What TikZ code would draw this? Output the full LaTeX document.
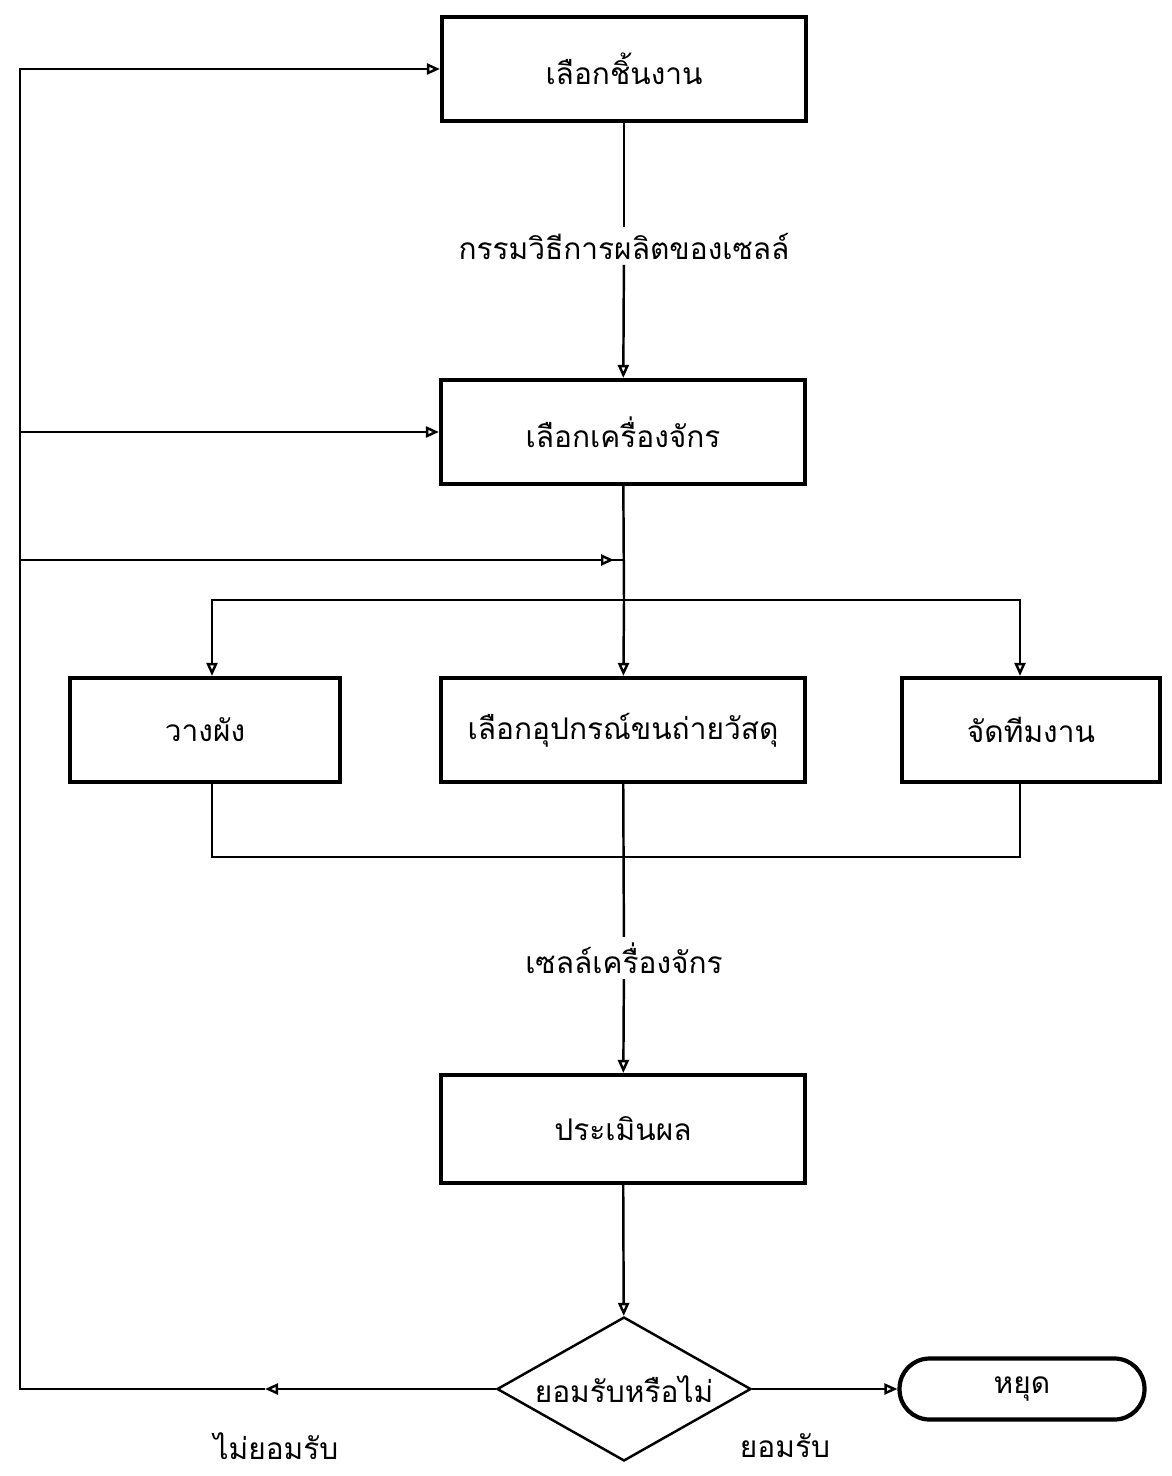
\documentclass[tikz,border=0pt]{standalone}
\usepackage{fontspec}
\setmainfont[Script=Thai]{Loma}
\usetikzlibrary{arrows.meta,shapes.geometric}
\tikzset{
  box/.style={draw, line width=2.4pt, minimum width=7.28cm, minimum height=2.08cm, font=\fontsize{17}{20}\selectfont},
  lbl/.style={inner sep=3pt, font=\fontsize{17}{20}\selectfont},
  conn/.style={line width=1.4pt},
  arr/.style={conn, -{Triangle[open, length=0.26cm, width=0.22cm]}}
}
\begin{document}
\begin{tikzpicture}[x=0.02cm, y=-0.02cm]
\useasboundingbox (0,0) rectangle (1172,1476);

\node[box] (b1) at (624,69) {เลือกชิ้นงาน};
\node[lbl] (lbl1) at (624,246) {กรรมวิธีการผลิตของเซลล์};
\node[box] (b2) at (623,432) {เลือกเครื่องจักร};
\node[box] (b3) at (623,730) {เลือกอุปกรณ์ขนถ่ายวัสดุ};
\node[box, minimum width=5.4cm] (bl) at (205,730) {วางผัง};
\node[box, minimum width=5.16cm] (br) at (1031,730) {จัดทีมงาน};
\node[lbl] (lbl2) at (624,958) {เซลล์เครื่องจักร};
\node[box, minimum height=2.16cm] (b4) at (623,1129) {ประเมินผล};
\node[draw, conn, diamond, shape aspect=1.76, minimum width=5.08cm, minimum height=2.88cm, inner sep=0pt, font=\fontsize{17}{20}\selectfont] (dec) at (624,1389) {ยอมรับหรือไม่};
\node[draw, line width=2.4pt, rounded corners=0.6cm, minimum width=4.9cm, minimum height=1.22cm, font=\fontsize{17}{20}\selectfont] (stop) at (1022,1389) {หยุด};
\node[lbl] (no) at (276,1446) {ไม่ยอมรับ};
\node[lbl] (yes) at (785,1446) {ยอมรับ};

\coordinate (jn) at (624,560);
\coordinate (sp) at (624,600);
\coordinate (mg) at (624,857);
\coordinate (ret) at (265,1389);
\coordinate (lft) at (20,1389);

\draw[conn] (b1) -- (lbl1);
\draw[arr] (lbl1) -- (b2);
\draw[conn] (b2) -- (sp);
\draw[arr] (sp) -- (b3);
\draw[arr] (sp) -| ([xshift=0.14cm]bl.north);
\draw[arr] (sp) -| ([xshift=-0.22cm]br.north);
\draw[conn] ([xshift=0.14cm]bl.south) |- (mg) -| ([xshift=-0.22cm]br.south);
\draw[conn] (b3) -- (lbl2);
\draw[arr] (lbl2) -- (b4);
\draw[arr] (b4) -- (dec);
\draw[arr] (dec) -- (stop);
\draw[arr] (dec) -- (ret);
\draw[arr] (ret) -- (lft) |- (b1);
\draw[arr] (lft |- b2.west) -- (b2);
\draw[arr] (lft |- jn) -- ([xshift=-0.2cm]jn);
\draw[conn] ([xshift=-0.24cm]jn) -- (jn);
\end{tikzpicture}
\end{document}
